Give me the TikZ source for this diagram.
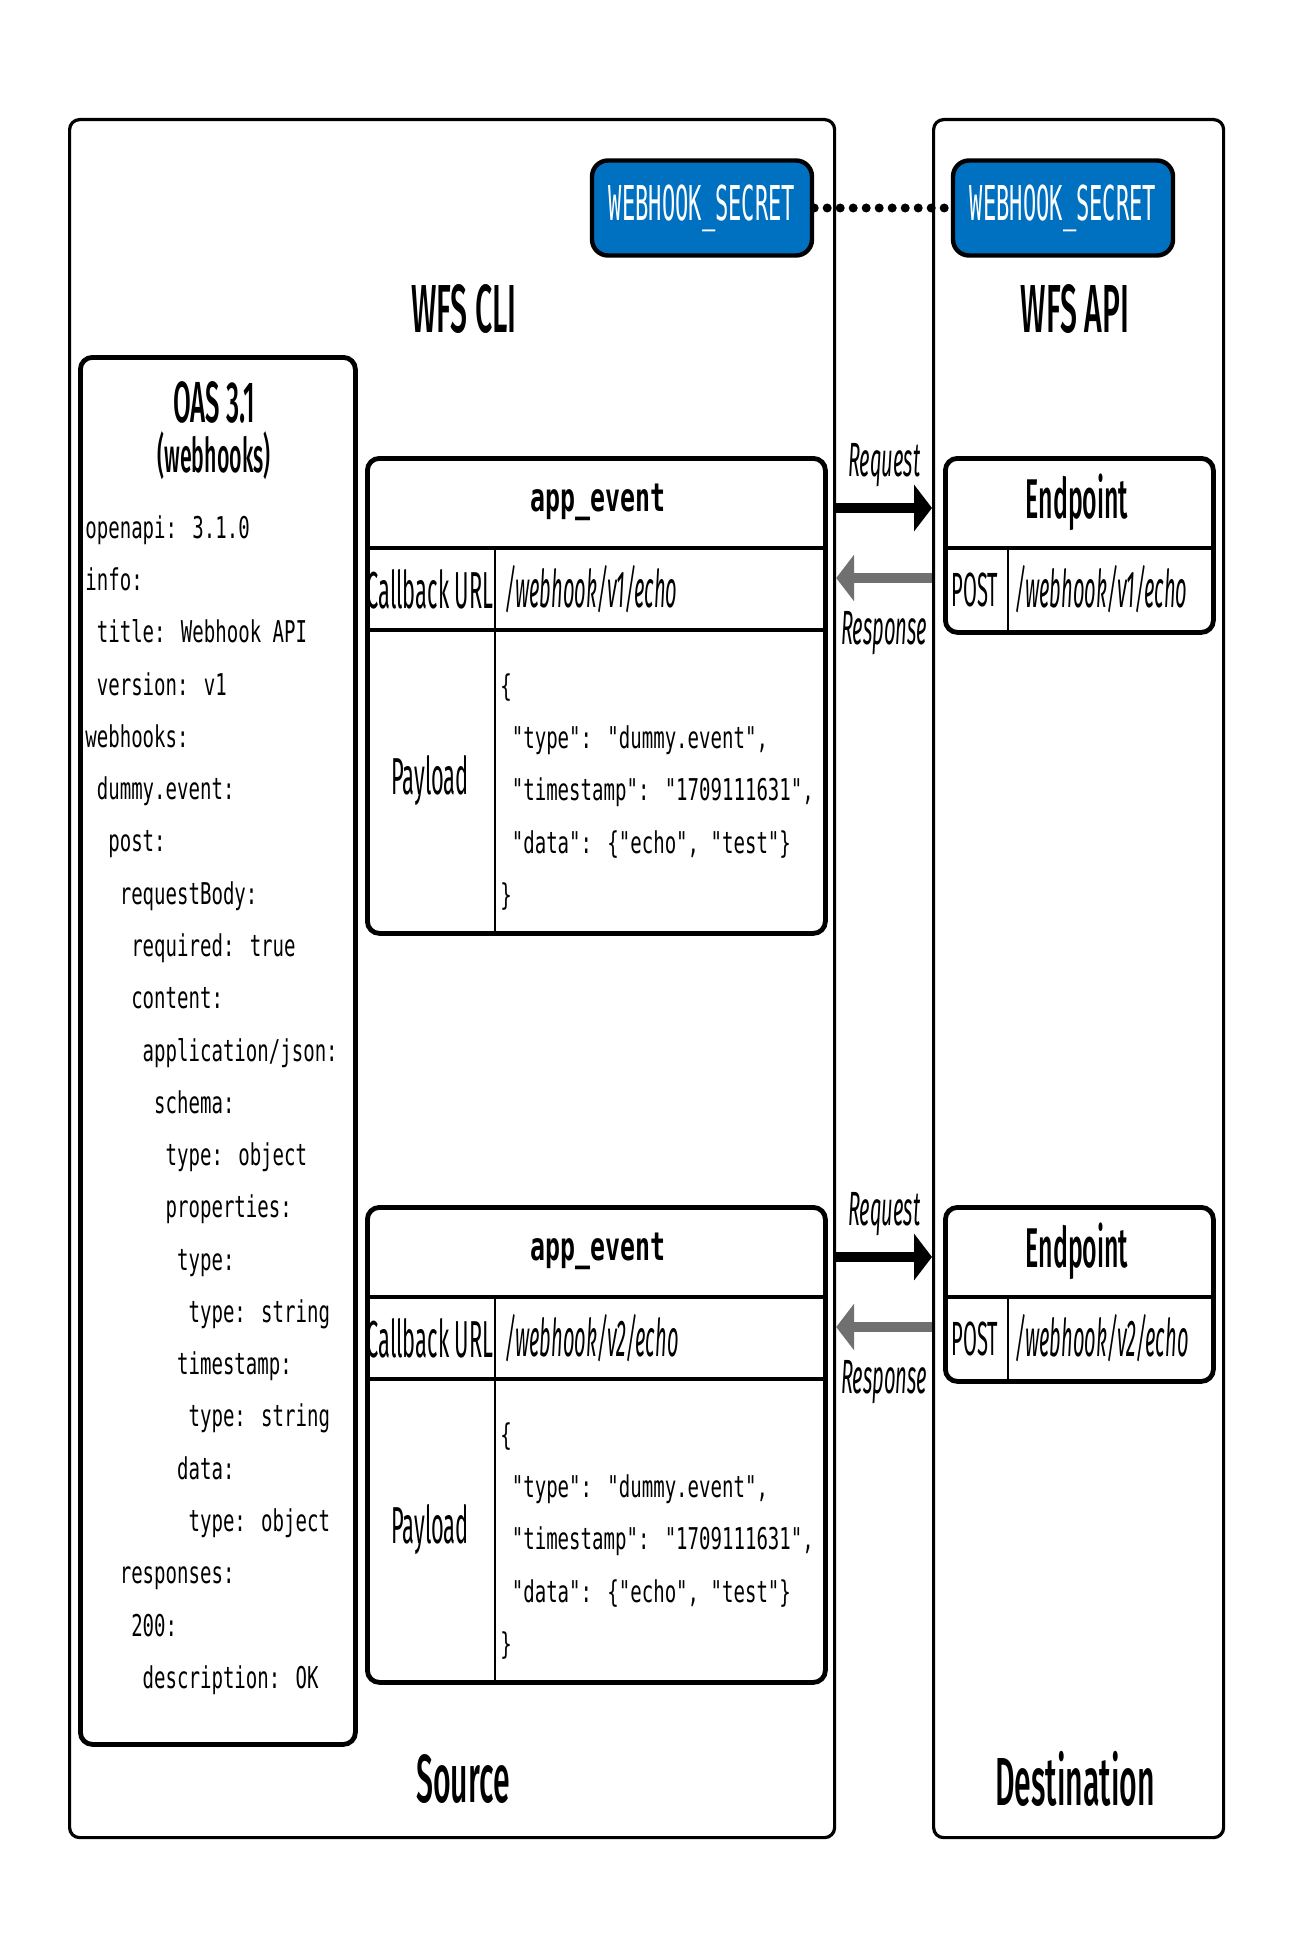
\documentclass[tikz,border=0pt]{standalone}
\usepackage{fontspec}
\setmainfont{Fira Sans}[FakeStretch=0.42]
\newfontfamily\headfont{Fira Sans Medium}[FakeStretch=0.445]
\newfontfamily\pathfont{Fira Sans}[FakeStretch=0.385]
\newfontfamily\codefont{DejaVu Sans Mono}[FakeStretch=0.635]
\newfontfamily\secretfont{DejaVu Sans Mono}[FakeStretch=0.46]
\usetikzlibrary{arrows.meta,positioning}
\definecolor{secretblue}{HTML}{0070C0}
\definecolor{replygray}{HTML}{707070}
\newcommand{\codeindent}[1]{\hspace*{#1\fontcharwd\font`0}}
\begin{document}
\begin{tikzpicture}[
    x=0.5pt, y=-0.5pt,
    panel/.style={draw, rounded corners=5pt, line width=1.6pt, anchor=north west},
    card/.style={draw, rounded corners=6pt, line width=2.4pt, anchor=north west},
    secret/.style={draw, fill=secretblue, text=white, rounded corners=8pt, line width=2.2pt,
        minimum width=110pt, minimum height=47.5pt, font=\secretfont\fontsize{24}{28}\selectfont},
    heading/.style={font=\headfont\fontsize{34}{40}\selectfont},
    cell/.style={font=\fontsize{26}{30}\selectfont, inner sep=0pt},
    path/.style={cell, font=\pathfont\fontsize{26}{30}\selectfont\itshape, anchor=west},
    code/.style={font=\codefont\fontsize{15}{26.14}\selectfont, align=left, inner sep=0pt, anchor=west},
    hrule/.style={line width=2.4pt},
    vrule/.style={line width=1.4pt},
    link/.style={line width=4.5pt, line cap=round, dash pattern=on 0pt off 6.5pt},
    request/.style={-{Triangle[length=9pt, width=23pt]}, line width=5pt},
    response/.style={request, draw=replygray},
    tag/.style={font=\fontsize{24}{28}\selectfont\itshape, inner sep=0pt}
]
    \useasboundingbox (0,0) rectangle (1290,1942);

    % source and destination
    \node[panel, minimum width=382.5pt, minimum height=859pt] (src) at (68,118) {};
    \node[panel, minimum width=145pt, minimum height=859pt] (dst) at (932,118) {};
    \node[heading] (cli) at (464,309) {WFS CLI};
    \node[heading] (api) at (1075,309) {WFS API};
    \node[heading] (srcname) at (463,1779) {Source};
    \node[heading] (dstname) at (1075,1779) {Destination};

    % shared secret
    \node[secret] (secretcli) at (702,208) {WEBHOOK\_SECRET};
    \node[secret] (secretapi) at (1063,208) {WEBHOOK\_SECRET};
    \draw[link] (secretcli.east) -- (secretapi.west);

    % webhook spec
    \node[card, minimum width=137.5pt, minimum height=693.5pt] (oas) at (78,355) {};
    \node[font=\headfont\fontsize{29}{34}\selectfont] (oastitle) at (214,402) {OAS 3.1};
    \node[font=\headfont\fontsize{24}{28}\selectfont] (oassub) at (214,456) {(webhooks)};
    \node[code] (oasbody) at (85,1105) {openapi: 3.1.0\\
        info:\\
        \codeindent{1}title: Webhook API\\
        \codeindent{1}version: v1\\
        webhooks:\\
        \codeindent{1}dummy.event:\\
        \codeindent{2}post:\\
        \codeindent{3}requestBody:\\
        \codeindent{4}required: true\\
        \codeindent{4}content:\\
        \codeindent{5}application/json:\\
        \codeindent{6}schema:\\
        \codeindent{7}type: object\\
        \codeindent{7}properties:\\
        \codeindent{8}type:\\
        \codeindent{9}type: string\\
        \codeindent{8}timestamp:\\
        \codeindent{9}type: string\\
        \codeindent{8}data:\\
        \codeindent{9}type: object\\
        \codeindent{3}responses:\\
        \codeindent{4}200:\\
        \codeindent{5}description: OK};

    % events and endpoints
    \foreach \top/\ver in {456/1, 1205/2} {
        \node[card, minimum width=229pt, minimum height=237.5pt] (ev\ver) at (365,\top) {};
        \node[cell, font=\codefont\fontsize{19.6}{24}\selectfont\bfseries] (evname\ver) at (598,{\top+46}) {app\_event};
        \draw[hrule] (365,{\top+92}) -- (823,{\top+92});
        \draw[hrule] (365,{\top+174}) -- (823,{\top+174});
        \draw[vrule] (495,{\top+92}) -- (495,{\top+475});
        \node[cell] (urlkey\ver) at (430,{\top+133}) {Callback URL};
        \node[path] (urlval\ver) at (505,{\top+133}) {/webhook/v\ver/echo};
        \node[cell] (bodykey\ver) at (430,{\top+325}) {Payload};
        \node[code] (bodyval\ver) at (500,{\top+336}) {\{\\
            \codeindent{1}"type": "dummy.event",\\
            \codeindent{1}"timestamp": "1709111631",\\
            \codeindent{1}"data": \{"echo", "test"\}\\
            \}};

        \node[card, minimum width=134pt, minimum height=87pt] (ep\ver) at (943,\top) {};
        \node[cell, font=\headfont\fontsize{28}{32}\selectfont] (epname\ver) at (1077,{\top+46}) {Endpoint};
        \draw[hrule] (943,{\top+92}) -- (1211,{\top+92});
        \draw[vrule] (1008,{\top+92}) -- (1008,{\top+174});
        \node[cell, font=\fontsize{24}{28}\selectfont] (method\ver) at (975,{\top+134}) {POST};
        \node[path] (route\ver) at (1015,{\top+133}) {/webhook/v\ver/echo};

        \coordinate (reqy\ver) at (0,{\top+52});
        \coordinate (resy\ver) at (0,{\top+122});
        \draw[request] (src.east |- reqy\ver) -- node[tag, above=8pt] {Request} (dst.west |- reqy\ver);
        \draw[response] (dst.west |- resy\ver) -- node[tag, below=14pt] {Response} (src.east |- resy\ver);
    }
\end{tikzpicture}
\end{document}
